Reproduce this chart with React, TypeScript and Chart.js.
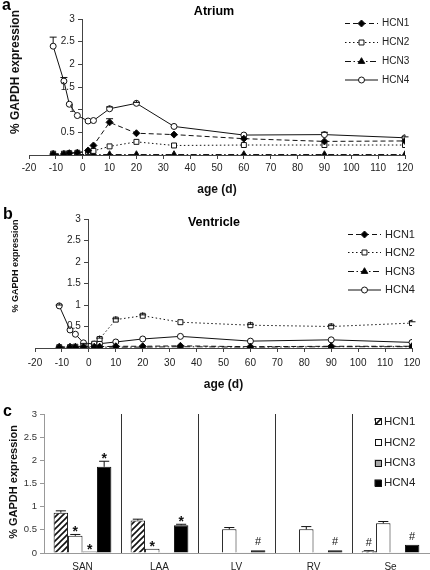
import React, { useEffect, useRef } from "react";
import { Chart, registerables } from "chart.js";

Chart.register(...registerables);

const FONT = "'Liberation Sans', Arial, Helvetica, sans-serif";

// ---------- data ----------
const seriesNames = ["HCN1", "HCN2", "HCN3", "HCN4"];
const ages = [-11, -7, -5, -2, 2, 4, 10, 20, 34, 60, 90, 120];

const atriumHCN1 = [0.02, 0.02, 0.04, 0.05, 0.1, 0.21, 0.72, 0.48, 0.45, 0.36, 0.3, 0.31];
const atriumHCN2 = [0.03, 0.03, 0.04, 0.05, 0.07, 0.09, 0.19, 0.29, 0.21, 0.22, 0.22, 0.22];
const atriumHCN3 = [0.01, 0.01, 0.01, 0.01, 0.01, 0.01, 0.01, 0.01, 0.01, 0.01, 0.01, 0.01];
const atriumHCN4 = [2.4, 1.63, 1.12, 0.87, 0.75, 0.76, 1.02, 1.14, 0.63, 0.44, 0.45, 0.38];
const atriumErrHCN1 = [0, 0, 0, 0, 0, 0, 0.08, 0, 0, 0, 0, 0];
const atriumErrHCN4 = [0.2, 0.08, 0, 0, 0, 0, 0.04, 0.02, 0, 0, 0.05, 0.02];

const ventHCN1 = [0.02, 0.02, 0.02, 0.03, 0.03, 0.03, 0.04, 0.04, 0.05, 0.03, 0.04, 0.04];
const ventHCN2 = [0.02, 0.02, 0.03, 0.05, 0.1, 0.21, 0.66, 0.75, 0.6, 0.53, 0.5, 0.58];
const ventHCN3 = [0.02, 0.02, 0.02, 0.02, 0.02, 0.02, 0.02, 0.02, 0.03, 0.02, 0.03, 0.03];
const ventHCN4 = [0.98, 0.42, 0.32, 0.12, 0.09, 0.1, 0.14, 0.21, 0.27, 0.16, 0.19, 0.13];
const ventErrHCN2 = [0, 0, 0, 0, 0, 0.02, 0.02, 0.02, 0, 0.02, 0.02, 0.03];
const ventErrHCN4 = [0.02, 0, 0, 0, 0, 0, 0, 0, 0, 0, 0, 0];

const regions = ["SAN", "LAA", "LV", "RV", "Se"];
const barHCN1 = [0.87, 0.7, 0.01, 0.01, 0.04];
const barHCN2 = [0.37, 0.09, 0.51, 0.51, 0.64];
const barHCN3 = [0.03, 0.005, 0.005, 0.005, 0.005];
const barHCN4 = [1.86, 0.6, 0.06, 0.06, 0.18];
const barErrHCN1 = [0.04, 0.03, 0, 0, 0.01];
const barErrHCN2 = [0.03, 0, 0.04, 0.06, 0.04];
const barErrHCN3 = [0, 0, 0, 0, 0];
const barErrHCN4 = [0.12, 0.02, 0, 0, 0];
const barMarkHCN1 = ["", "", "", "", "#"];
const barMarkHCN2 = ["*", "*", "", "", ""];
const barMarkHCN3 = ["*", "", "", "", ""];
const barMarkHCN4 = ["*", "*", "#", "#", "#"];

const yMin = 0;
const yMax = 3;
const yStep = 0.5;
const xMin = -20;
const xMax = 120;
const xStep = 10;

// ---------- helpers ----------
function drawMarker(ctx: CanvasRenderingContext2D, style: string, x: number, y: number, r: number, fill: any, stroke: string) {
  ctx.save();
  ctx.setLineDash([]);
  ctx.lineWidth = 1;
  ctx.beginPath();
  if (style === "circle") {
    ctx.arc(x, y, r, 0, Math.PI * 2);
  } else if (style === "rect") {
    const s = r * Math.SQRT1_2;
    ctx.rect(x - s, y - s, 2 * s, 2 * s);
  } else if (style === "rectRot") {
    ctx.moveTo(x, y - r);
    ctx.lineTo(x + r, y);
    ctx.lineTo(x, y + r);
    ctx.lineTo(x - r, y);
    ctx.closePath();
  } else if (style === "triangle") {
    const c = Math.cos(Math.PI / 6) * r;
    ctx.moveTo(x, y - r);
    ctx.lineTo(x + c, y + r / 2);
    ctx.lineTo(x - c, y + r / 2);
    ctx.closePath();
  }
  ctx.fillStyle = fill;
  ctx.fill();
  ctx.strokeStyle = stroke;
  ctx.stroke();
  ctx.restore();
}

const lineLegendPlugin = {
  id: "lineLegend",
  afterDraw(chart: any, _args: any, opts: any) {
    const ctx = chart.ctx as CanvasRenderingContext2D;
    chart.data.datasets.forEach((ds: any, i: number) => {
      const y = opts.ys[i];
      ctx.save();
      ctx.strokeStyle = ds.borderColor;
      ctx.lineWidth = 1;
      ctx.setLineDash(ds.borderDash || []);
      ctx.beginPath();
      ctx.moveTo(opts.x0, y);
      ctx.lineTo(opts.x1, y);
      ctx.stroke();
      ctx.restore();
      drawMarker(ctx, ds.pointStyle, (opts.x0 + opts.x1) / 2, y, ds.pointRadius, ds.pointBackgroundColor, ds.pointBorderColor);
      ctx.save();
      ctx.fillStyle = "#222";
      ctx.font = opts.font;
      ctx.textBaseline = "middle";
      ctx.textAlign = "left";
      ctx.fillText(ds.label, opts.textX, y);
      ctx.restore();
    });
  },
};

// y tick labels for an axis that crosses at x = 0
const crossLabelsPlugin = {
  id: "crossLabels",
  afterDraw(chart: any, _args: any, opts: any) {
    const ctx = chart.ctx as CanvasRenderingContext2D;
    const ys = chart.scales.y;
    const ax = chart.scales.x.getPixelForValue(0);
    ctx.save();
    ctx.fillStyle = "#222";
    ctx.font = opts.font;
    ctx.textAlign = "right";
    ctx.textBaseline = "middle";
    ys.ticks.forEach((t: any) => {
      if (t.value === 0) return;
      ctx.fillText(String(t.value), ax - opts.gap, ys.getPixelForValue(t.value));
    });
    ctx.restore();
  },
};

const errorBarPlugin = {
  id: "errorBars",
  afterDatasetsDraw(chart: any, _args: any, opts: any) {
    const ctx = chart.ctx as CanvasRenderingContext2D;
    const ys = chart.scales.y;
    chart.data.datasets.forEach((ds: any, di: number) => {
      const errs: number[] | undefined = ds.errors;
      if (!errs) return;
      const meta = chart.getDatasetMeta(di);
      meta.data.forEach((el: any, i: number) => {
        const e = errs[i];
        if (!e) return;
        const raw = ds.data[i];
        const v = typeof raw === "number" ? raw : raw.y;
        const y1 = ys.getPixelForValue(v + e);
        const y0 = opts.fromPointEdge ? el.y - (ds.pointRadius || 0) : el.y;
        const half = el.width ? el.width * 0.35 : opts.cap;
        ctx.save();
        ctx.strokeStyle = opts.color;
        ctx.lineWidth = 1;
        ctx.setLineDash([]);
        ctx.beginPath();
        ctx.moveTo(el.x, y0);
        ctx.lineTo(el.x, y1);
        ctx.moveTo(el.x - half, y1);
        ctx.lineTo(el.x + half, y1);
        ctx.stroke();
        ctx.restore();
      });
    });
  },
};

const barMarkPlugin = {
  id: "barMarks",
  afterDatasetsDraw(chart: any) {
    const ctx = chart.ctx as CanvasRenderingContext2D;
    const ys = chart.scales.y;
    chart.data.datasets.forEach((ds: any, di: number) => {
      const marks: string[] | undefined = ds.marks;
      if (!marks) return;
      const meta = chart.getDatasetMeta(di);
      meta.data.forEach((el: any, i: number) => {
        const m = marks[i];
        if (!m) return;
        const v = ds.data[i] + (ds.errors ? ds.errors[i] : 0);
        const top = ys.getPixelForValue(v);
        ctx.save();
        ctx.fillStyle = "#111";
        ctx.textAlign = "center";
        ctx.textBaseline = "alphabetic";
        if (m === "*") {
          ctx.font = `bold 14px ${FONT}`;
          ctx.fillText(m, el.x, top + 2);
        } else {
          ctx.font = `11px ${FONT}`;
          ctx.fillText(m, el.x, top - 5);
        }
        ctx.restore();
      });
    });
  },
};

const dividerPlugin = {
  id: "dividers",
  afterDatasetsDraw(chart: any) {
    const ctx = chart.ctx as CanvasRenderingContext2D;
    const xs = chart.scales.x;
    const area = chart.chartArea;
    const n = chart.data.labels.length;
    ctx.save();
    ctx.strokeStyle = "#333";
    ctx.lineWidth = 1;
    for (let i = 0; i < n - 1; i++) {
      const x = Math.round((xs.getPixelForTick(i) + xs.getPixelForTick(i + 1)) / 2) + 0.5;
      ctx.beginPath();
      ctx.moveTo(x, area.top);
      ctx.lineTo(x, area.bottom);
      ctx.stroke();
    }
    ctx.restore();
  },
};

const boxLegendPlugin = {
  id: "boxLegend",
  afterDraw(chart: any, _args: any, opts: any) {
    const ctx = chart.ctx as CanvasRenderingContext2D;
    chart.data.datasets.forEach((ds: any, i: number) => {
      const y = opts.ys[i];
      const s = opts.size;
      ctx.save();
      ctx.fillStyle = ds.backgroundColor;
      ctx.fillRect(opts.x - s / 2, y - s / 2, s, s);
      ctx.strokeStyle = "#111";
      ctx.lineWidth = 1;
      ctx.strokeRect(Math.round(opts.x - s / 2) + 0.5, Math.round(y - s / 2) + 0.5, s - 1, s - 1);
      ctx.fillStyle = "#222";
      ctx.font = opts.font;
      ctx.textAlign = "left";
      ctx.textBaseline = "middle";
      ctx.fillText(ds.label, opts.textX, y);
      ctx.restore();
    });
  },
};

const lineStyles = [
  { dash: [5, 3], point: "rectRot", radius: 3.5, fill: "#000" },
  { dash: [1.5, 2.5], point: "rect", radius: 3.5, fill: "#fff" },
  { dash: [6, 2.5, 1.5, 2.5], point: "triangle", radius: 3.8, fill: "#000" },
  { dash: [], point: "circle", radius: 3, fill: "#fff" },
];

function lineConfig(p: any): any {
  const datasets = p.series.map((vals: number[], i: number) => ({
    label: seriesNames[i],
    data: ages.map((a, k) => ({ x: a, y: vals[k] })),
    borderColor: "#111",
    borderWidth: 1,
    borderDash: lineStyles[i].dash,
    pointStyle: lineStyles[i].point,
    pointRadius: lineStyles[i].radius,
    pointBackgroundColor: lineStyles[i].fill,
    pointBorderColor: "#111",
    pointBorderWidth: 1,
    fill: false,
    tension: 0,
    errors: p.errors[i],
  }));
  return {
    type: "line",
    data: { datasets },
    plugins: [errorBarPlugin, lineLegendPlugin, crossLabelsPlugin],
    options: {
      responsive: false,
      animation: false,
      layout: { padding: { top: p.padTop, left: p.padLeft, right: p.padRight, bottom: 0 } },
      scales: {
        x: {
          type: "linear",
          min: xMin,
          max: xMax,
          ticks: { stepSize: xStep, autoSkip: false, maxRotation: 0, color: "#222", padding: p.xTickPad, font: { family: FONT, size: 10 } },
          grid: { drawOnChartArea: false, drawTicks: true, tickLength: 4, color: "#444" },
          border: { color: "#444", width: 1 },
          title: { display: true, text: "age (d)", color: "#111", font: { family: FONT, size: 12, weight: "bold", lineHeight: 1 }, padding: { top: 0, bottom: p.titlePad } },
          afterFit: (s: any) => { s.height = p.axisHeight; },
        },
        y: {
          type: "linear",
          position: { x: 0 },
          min: yMin,
          max: yMax,
          ticks: { stepSize: yStep, display: false },
          grid: { drawOnChartArea: false, drawTicks: true, tickLength: 4, color: "#444" },
          border: { color: "#444", width: 1 },
        },
      },
      plugins: {
        legend: { display: false },
        tooltip: { enabled: false },
        errorBars: { color: "#111", cap: 3.5, fromPointEdge: true },
        lineLegend: p.legend,
        crossLabels: { font: `10px ${FONT}`, gap: 8 },
      },
    },
  };
}

function makeHatch(): CanvasPattern | string {
  const c = document.createElement("canvas");
  c.width = 6;
  c.height = 6;
  const g = c.getContext("2d");
  if (!g) return "#888";
  g.fillStyle = "#fff";
  g.fillRect(0, 0, 6, 6);
  g.strokeStyle = "#111";
  g.lineWidth = 1.6;
  g.beginPath();
  g.moveTo(-1, 7);
  g.lineTo(7, -1);
  g.moveTo(-4, 4);
  g.lineTo(4, -4);
  g.moveTo(2, 10);
  g.lineTo(10, 2);
  g.stroke();
  const pat = g.createPattern(c, "repeat");
  return pat || "#888";
}

const yTitleStyle: React.CSSProperties = {
  position: "absolute",
  transform: "translate(-50%, -50%) rotate(-90deg)",
  whiteSpace: "nowrap",
  fontWeight: "bold",
  lineHeight: 1,
  color: "#111",
};

export default function App() {
  const refA = useRef<HTMLCanvasElement>(null);
  const refB = useRef<HTMLCanvasElement>(null);
  const refC = useRef<HTMLCanvasElement>(null);

  useEffect(() => {
    const charts: Chart[] = [];
    if (refA.current) {
      charts.push(
        new Chart(
          refA.current,
          lineConfig({
            series: [atriumHCN1, atriumHCN2, atriumHCN3, atriumHCN4],
            errors: [atriumErrHCN1, null, null, atriumErrHCN4],
            padTop: 19,
            padLeft: 29,
            padRight: 25,
            axisHeight: 45,
            xTickPad: 3,
            titlePad: 4,
            legend: { x0: 345, x1: 378, textX: 382, ys: [23.5, 42.5, 61.5, 80], font: `10px ${FONT}` },
          })
        )
      );
    }
    if (refB.current) {
      charts.push(
        new Chart(
          refB.current,
          lineConfig({
            series: [ventHCN1, ventHCN2, ventHCN3, ventHCN4],
            errors: [null, ventErrHCN2, null, ventErrHCN4],
            padTop: 24,
            padLeft: 35,
            padRight: 18,
            axisHeight: 47,
            xTickPad: 5,
            titlePad: 4,
            legend: { x0: 348, x1: 381, textX: 385, ys: [39.5, 57.5, 76.5, 95], font: `11px ${FONT}` },
          })
        )
      );
    }
    if (refC.current) {
      const fills = [makeHatch(), "#fff", "#a8a8a8", "#000"];
      const vals = [barHCN1, barHCN2, barHCN3, barHCN4];
      const errs = [barErrHCN1, barErrHCN2, barErrHCN3, barErrHCN4];
      const marks = [barMarkHCN1, barMarkHCN2, barMarkHCN3, barMarkHCN4];
      const cfg: any = {
        type: "bar",
        data: {
          labels: regions,
          datasets: vals.map((v, i) => ({
            label: seriesNames[i],
            data: v,
            backgroundColor: fills[i],
            borderColor: "#111",
            borderWidth: 1,
            categoryPercentage: 0.75,
            barPercentage: 1,
            errors: errs[i],
            marks: marks[i],
          })),
        },
        plugins: [dividerPlugin, errorBarPlugin, barMarkPlugin, boxLegendPlugin],
        options: {
          responsive: false,
          animation: false,
          layout: { padding: { top: 22, left: 0, right: 1, bottom: 0 } },
          scales: {
            x: {
              ticks: { color: "#222", padding: 8, font: { family: FONT, size: 10 } },
              grid: { drawOnChartArea: false, drawTicks: false, color: "#999" },
              border: { color: "#999", width: 1 },
              afterFit: (s: any) => { s.height = 17; },
            },
            y: {
              min: yMin,
              max: yMax,
              ticks: { stepSize: yStep, color: "#333", padding: 3, font: { family: FONT, size: 9.5 }, callback: (v: number) => String(v) },
              grid: { drawOnChartArea: false, drawTicks: true, tickLength: 4, color: "#999" },
              border: { color: "#999", width: 1 },
              afterFit: (s: any) => { s.width = 44; },
            },
          },
          plugins: {
            legend: { display: false },
            tooltip: { enabled: false },
            errorBars: { color: "#111", cap: 4 },
            boxLegend: { x: 378, textX: 384, size: 7, ys: [29.5, 50.5, 71, 91], font: `11.5px ${FONT}` },
          },
        },
      };
      charts.push(new Chart(refC.current, cfg));
    }
    return () => charts.forEach((c) => c.destroy());
  }, []);

  return (
    <div style={{ position: "absolute", left: 0, top: 0, width: 430, height: 570, background: "#fff", fontFamily: FONT, overflow: "hidden" }}>
      <canvas ref={refA} width={430} height={200} style={{ position: "absolute", left: 0, top: 0 }} />
      <canvas ref={refB} width={430} height={200} style={{ position: "absolute", left: 0, top: 195 }} />
      <canvas ref={refC} width={430} height={178} style={{ position: "absolute", left: 0, top: 392 }} />

      <div style={{ position: "absolute", left: 2, top: -3, fontSize: 16, fontWeight: "bold", lineHeight: 1 }}>a</div>
      <div style={{ position: "absolute", left: 3, top: 206, fontSize: 16, fontWeight: "bold", lineHeight: 1 }}>b</div>
      <div style={{ position: "absolute", left: 3, top: 403, fontSize: 16, fontWeight: "bold", lineHeight: 1 }}>c</div>

      <div style={{ position: "absolute", left: 214, top: 11, transform: "translate(-50%, -50%)", fontSize: 12.5, fontWeight: "bold", lineHeight: 1, whiteSpace: "nowrap" }}>Atrium</div>
      <div style={{ position: "absolute", left: 214, top: 222, transform: "translate(-50%, -50%)", fontSize: 12.5, fontWeight: "bold", lineHeight: 1, whiteSpace: "nowrap" }}>Ventricle</div>

      <div style={{ ...yTitleStyle, left: 15, top: 72, fontSize: 12 }}>% GAPDH expression</div>
      <div style={{ ...yTitleStyle, left: 15, top: 266, fontSize: 9 }}>% GAPDH expression</div>
      <div style={{ ...yTitleStyle, left: 13, top: 482, fontSize: 11 }}>% GAPDH expression</div>
    </div>
  );
}
